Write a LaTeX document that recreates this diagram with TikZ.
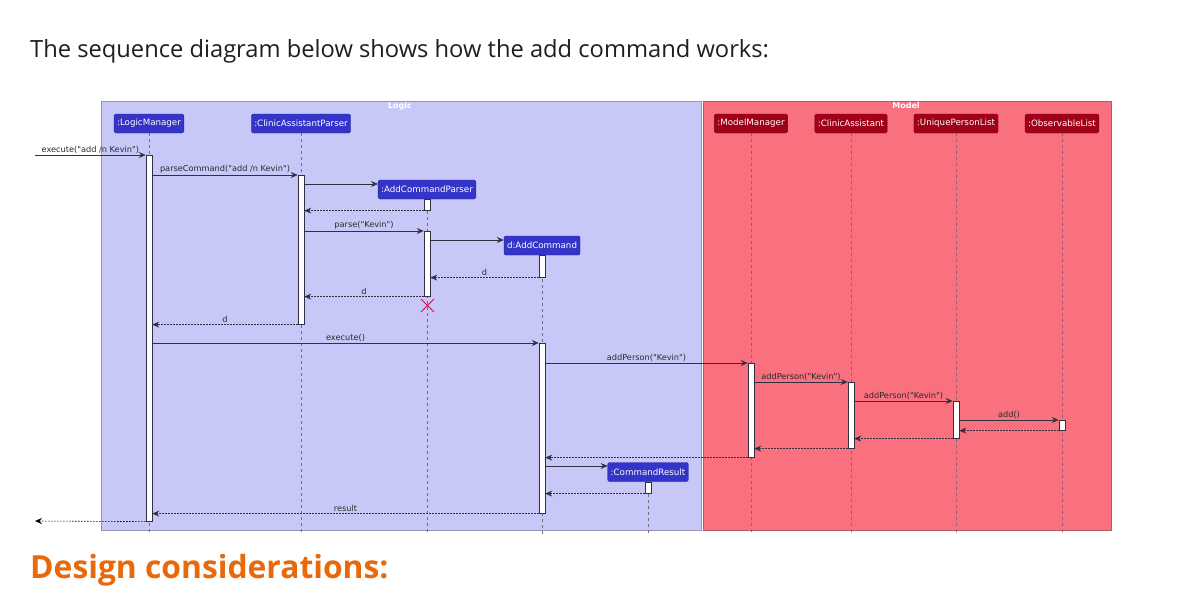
\documentclass[tikz,border=0pt]{standalone}
\usepackage{fontspec}
\setmainfont{Open Sans}
\newfontfamily\umlfont{DejaVu Sans}
\usetikzlibrary{positioning,arrows.meta,shapes.misc}
\definecolor{logicfill}{HTML}{C8C8F8}
\definecolor{logicedge}{HTML}{9494B4}
\definecolor{logicbox}{HTML}{3434C8}
\definecolor{modelfill}{HTML}{F9717F}
\definecolor{modeledge}{HTML}{B05C68}
\definecolor{modelbox}{HTML}{A00018}
\definecolor{umlline}{HTML}{303040}
\definecolor{umltext}{HTML}{2A2A2A}
\definecolor{lifegray}{HTML}{6E6E80}
\definecolor{destroyred}{HTML}{C8104A}
\definecolor{bodytext}{HTML}{1E1E1E}
\definecolor{headorange}{HTML}{E8680A}

\begin{document}
\begin{tikzpicture}[x=1pt, y=-1pt,
  lpart/.style={fill=logicbox, draw=logicbox!75!black, line width=0.4pt, rounded corners=1.5pt,
                text=white, font=\umlfont\fontsize{8.7}{9}\selectfont,
                minimum height=19pt, inner xsep=3pt, inner ysep=0pt},
  mpart/.style={lpart, fill=modelbox, draw=modelbox!75!black},
  act/.style={draw=umlline, fill=white, line width=0.6pt, minimum width=6pt,
              inner sep=0pt, anchor=north},
  life/.style={draw=lifegray, dash pattern=on 3pt off 3pt, line width=0.5pt},
  msg/.style={-{Stealth[length=7pt, width=6pt, inset=2.5pt]}, draw=umlline, line width=0.6pt},
  ret/.style={msg, dash pattern=on 1.5pt off 1.5pt},
  mlab/.style={font=\umlfont\fontsize{8.2}{9}\selectfont, text=umltext, inner sep=1pt,
               anchor=south, yshift=0.5pt},
  ftitle/.style={font=\umlfont\bfseries\fontsize{8}{8}\selectfont, text=white, inner sep=0pt}
]
\useasboundingbox (0,0) rectangle (1177,592);

% page text
\node[anchor=base west, inner sep=0pt, text=bodytext, font=\fontsize{23.7}{28}\selectfont]
  (intro) at (30,57) {The sequence diagram below shows how the add command works:};
\node[anchor=base west, inner sep=0pt, text=headorange, font=\bfseries\fontsize{31.8}{36}\selectfont]
  (design) at (30,578) {Design considerations:};

% boxes
\draw[fill=logicfill, draw=logicedge, line width=0.8pt] (101,101) rectangle (701,530);
\draw[fill=modelfill, draw=modeledge, line width=0.8pt] (703,101) rectangle (1111,530);
\node[ftitle] (logict) at (400,106) {Logic};
\node[ftitle] (modelt) at (906,106) {Model};

% participants
\node[lpart] (lm)  at (149,123.5)  {:LogicManager};
\node[lpart] (cap) at (301,123.5)  {:ClinicAssistantParser};
\node[lpart] (acp) at (427,189.5)  {:AddCommandParser};
\node[lpart] (ac)  at (542,245.5)  {d:AddCommand};
\node[lpart] (cr)  at (648,472)    {:CommandResult};
\node[mpart] (mm)  at (751,123.5)  {:ModelManager};
\node[mpart] (ca)  at (851,123.5)  {:ClinicAssistant};
\node[mpart] (upl) at (956,123.5)  {:UniquePersonList};
\node[mpart] (ol)  at (1062,123.5) {:ObservableList};

\foreach \p in {lm,cap,acp,ac,cr,mm,ca,upl,ol}
  \draw[life] (\p.south) -- (\p.south |- 0,535);

% activations
\node[act, minimum height=366] (lmA)   at (149,155) {};
\node[act, minimum height=149] (capA)  at (301,175) {};
\node[act, minimum height=11]  (acpA1) at (427,199) {};
\node[act, minimum height=65]  (acpA2) at (427,231) {};
\node[act, minimum height=22]  (acA1)  at (542,255) {};
\node[act, minimum height=170] (acA2)  at (542,343) {};
\node[act, minimum height=11]  (crA)   at (648,482) {};
\node[act, minimum height=94]  (mmA)   at (751,363) {};
\node[act, minimum height=66]  (caA)   at (851,382) {};
\node[act, minimum height=37]  (uplA)  at (956,401) {};
\node[act, minimum height=10]  (olA)   at (1062,420) {};

\coordinate (in)  at (35,155);
\coordinate (out) at (35,521);

% messages
\draw[msg] (in) -- node[mlab] {execute("add /n Kevin")} (lmA.west |- in);
\draw[msg] (lmA.east |- 0,175) -- node[mlab] {parseCommand("add /n Kevin")} (capA.west |- 0,175);
\draw[msg] (capA.east |- 0,184) -- (acp.west |- 0,184);
\draw[ret] (acpA1.south west) -- (capA.east |- acpA1.south);
\draw[msg] (capA.east |- 0,231) -- node[mlab] {parse("Kevin")} (acpA2.north west);
\draw[msg] (acpA2.east |- 0,240) -- (ac.west |- 0,240);
\draw[ret] (acA1.south west) -- node[mlab] {d} (acpA2.east |- acA1.south);
\draw[ret] (acpA2.south west) -- node[mlab] {d} (capA.east |- acpA2.south);
\node[draw=destroyred, cross out, line width=0.9pt, minimum size=12pt, inner sep=0pt]
  (kill) at (427.5,305.5) {};
\draw[ret] (capA.south west) -- node[mlab] {d} (lmA.east |- capA.south);
\draw[msg] (lmA.east |- acA2.north) -- node[mlab] {execute()} (acA2.north west);
\draw[msg] (acA2.east |- mmA.north) -- node[mlab] {addPerson("Kevin")} (mmA.north west);
\draw[msg] (mmA.east |- caA.north) -- node[mlab] {addPerson("Kevin")} (caA.north west);
\draw[msg] (caA.east |- uplA.north) -- node[mlab] {addPerson("Kevin")} (uplA.north west);
\draw[msg] (uplA.east |- olA.north) -- node[mlab] {add()} (olA.north west);
\draw[ret] (olA.south west) -- (uplA.east |- olA.south);
\draw[ret] (uplA.south west) -- (caA.east |- uplA.south);
\draw[ret] (caA.south west) -- (mmA.east |- caA.south);
\draw[ret] (mmA.south west) -- (acA2.east |- mmA.south);
\draw[msg] (acA2.east |- 0,466) -- (cr.west |- 0,466);
\draw[ret] (crA.south west) -- (acA2.east |- crA.south);
\draw[ret] (acA2.south west) -- node[mlab] {result} (lmA.east |- acA2.south);
\draw[ret, draw=black] (lmA.south west) -- (out);
\end{tikzpicture}
\end{document}
